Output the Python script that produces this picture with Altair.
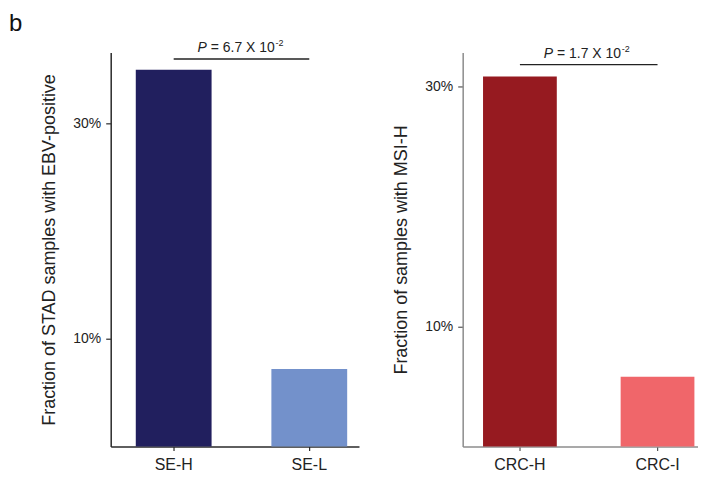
import altair as alt
import pandas as pd

FONT = "Liberation Sans"

panel_label = "b"
y_ticks = [0.1, 0.3]

left_groups = ["SE-H", "SE-L"]
left_values = [0.350, 0.072]
left_colors = ["#211F5E", "#7391CB"]
left_title = "Fraction of STAD samples with EBV-positive"
left_p_parts = ["P", "= 6.7 X 10", "-2"]
left_p_level = 0.360
left_ymax = 0.366

right_groups = ["CRC-H", "CRC-I"]
right_values = [0.308, 0.058]
right_colors = ["#961A20", "#F0666A"]
right_title = "Fraction of samples with MSI-H"
right_p_parts = ["P", "= 1.7 X 10", "-2"]
right_p_level = 0.318
right_ymax = 0.328

PLOT_H = 395


def panel(groups, values, colors, ytitle, p_parts, p_level, ymax, width,
          pad_inner, pad_outer, align, axis_color, tick_color, step):
    bars_df = pd.DataFrame({"group": groups, "value": values})
    xscale = alt.Scale(domain=groups, paddingInner=pad_inner,
                       paddingOuter=pad_outer, align=align)
    yscale = alt.Scale(domain=[0, ymax], nice=False, zero=True)
    xaxis = alt.Axis(title=None, labelAngle=0, labelFontSize=16,
                     labelColor="#222222", labelFont=FONT, labelPadding=6,
                     domainColor=axis_color, domainWidth=1.5,
                     tickColor=tick_color, tickSize=4, tickWidth=1.2,
                     grid=False)
    yaxis = alt.Axis(title=ytitle, values=y_ticks, format=".0%",
                     labelFontSize=14, labelColor="#222222", labelFont=FONT,
                     labelPadding=5, titleFontSize=18, titleFont=FONT,
                     titleFontWeight="normal", titleColor="#222222",
                     titlePadding=14, domainColor=axis_color, domainWidth=1.5,
                     tickColor=tick_color, tickSize=5, tickWidth=1.2,
                     grid=False)
    bars = alt.Chart(bars_df).mark_bar().encode(
        x=alt.X("group:N", scale=xscale, sort=groups, axis=xaxis),
        y=alt.Y("value:Q", scale=yscale, axis=yaxis),
        color=alt.Color("group:N", scale=alt.Scale(domain=groups, range=colors),
                        legend=None),
    )
    p_df = pd.DataFrame({"g1": [groups[0]], "g2": [groups[1]], "level": [p_level]})
    rule = alt.Chart(p_df).mark_rule(color="#222222", strokeWidth=1.3).encode(
        x=alt.X("g1:N", bandPosition=0.5),
        x2=alt.X2("g2:N", bandPosition=0.5),
        y=alt.Y("level:Q"),
    )
    half = step / 2.0
    start = half - 44
    common = dict(font=FONT, color="#222222", baseline="alphabetic", align="left")
    t1 = alt.Chart(p_df).mark_text(fontSize=14, fontStyle="italic", dx=start,
                                   dy=-7, **common).encode(
        x=alt.X("g1:N", bandPosition=0.5), y="level:Q",
        text=alt.value(p_parts[0]))
    t2 = alt.Chart(p_df).mark_text(fontSize=14, dx=start + 13.2, dy=-7,
                                   **common).encode(
        x=alt.X("g1:N", bandPosition=0.5), y="level:Q",
        text=alt.value(p_parts[1]))
    t3 = alt.Chart(p_df).mark_text(fontSize=9, dx=start + 78.2, dy=-13,
                                   **common).encode(
        x=alt.X("g1:N", bandPosition=0.5), y="level:Q",
        text=alt.value(p_parts[2]))
    return alt.layer(bars, rule, t1, t2, t3).properties(width=width, height=PLOT_H)


left = panel(left_groups, left_values, left_colors, left_title, left_p_parts,
             left_p_level, left_ymax, 249, 0.441, 0.136, 0.68,
             "#2a2a2a", "#2a2a2a", 136)
right = panel(right_groups, right_values, right_colors, right_title,
              right_p_parts, right_p_level, right_ymax, 236, 0.464, 0.087,
              0.85, "#8c8c8c", "#555555", 136)

chart = alt.hconcat(left, right, spacing=33).resolve_scale(
    color="independent"
).properties(
    title=alt.TitleParams(panel_label, anchor="start", fontSize=24,
                          fontWeight="normal", font=FONT, color="#111111",
                          dx=-32, offset=3),
    padding={"left": 0, "top": 3, "right": 0, "bottom": 0},
).configure_view(stroke=None)

chart.save("out.html", embed_options={"renderer": "svg", "actions": False})
